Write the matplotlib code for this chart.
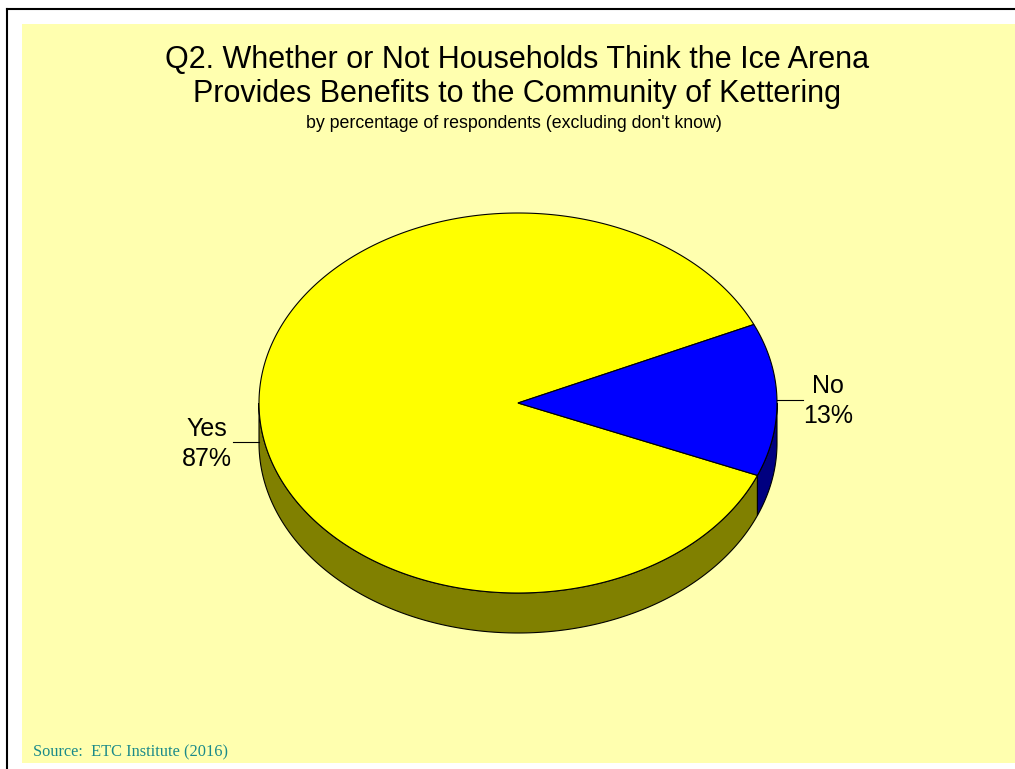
import matplotlib.pyplot as plt
import numpy as np
from matplotlib.patches import Polygon, Rectangle

# Survey answers (percent of respondents, excluding don't know)
labels = ["Yes", "No"]
values = [87, 13]
top_colors = ["#FFFF00", "#0000FF"]
side_colors = ["#808000", "#000080"]

title = ("Q2. Whether or Not Households Think the Ice Arena\n"
         "Provides Benefits to the Community of Kettering")
subtitle = "by percentage of respondents (excluding don't know)"
source = "Source:  ETC Institute (2016)"

W, H = 1015, 769
fig = plt.figure(figsize=(W / 100, H / 100), dpi=100)
ax = fig.add_axes([0, 0, 1, 1])
ax.set_xlim(0, W)
ax.set_ylim(H, 0)
ax.axis("off")

# frame lines and plot area fill
ax.plot([7, W], [9, 9], color="black", lw=1.5)
ax.plot([7, 7], [9, H], color="black", lw=1.5)
ax.add_patch(Rectangle((22, 24), W - 22, 739, facecolor="#FFFFAF", edgecolor="none"))

# 3D pie geometry (pixel space)
cx, cy = 518, 403
rx, ry = 259, 190
depth = 40

def arc(a0, a1, n=200):
    t = np.radians(np.linspace(a0, a1, n))
    return cx + rx * np.cos(t), cy - ry * np.sin(t)

# slices run counter-clockwise; "No" is centred just above the 3 o'clock line
no_span = values[1] / sum(values) * 360
no_start = 1 - no_span / 2
spans = {
    "No": (no_start, no_start + no_span),
    "Yes": (no_start + no_span, no_start + 360),
}

# side walls: only the front half (180..360 deg) is visible
for lab, side in zip(labels, side_colors):
    a0, a1 = spans[lab]
    for k in (-1, 0, 1):
        lo = max(a0, 180 + 360 * k)
        hi = min(a1, 360 + 360 * k)
        if hi <= lo:
            continue
        xs, ys = arc(lo, hi)
        pts = np.column_stack([np.r_[xs, xs[::-1]], np.r_[ys, ys[::-1] + depth]])
        ax.add_patch(Polygon(pts, closed=True, facecolor=side,
                             edgecolor="black", lw=0.8))

# top faces
for lab, top in zip(labels, top_colors):
    a0, a1 = spans[lab]
    xs, ys = arc(a0, a1, 400)
    pts = np.column_stack([np.r_[cx, xs], np.r_[cy, ys]])
    ax.add_patch(Polygon(pts, closed=True, facecolor=top,
                         edgecolor="black", lw=0.8))

# data labels with short leader lines
font = "Liberation Sans"
ax.plot([777, 803], [400, 400], color="black", lw=0.8)
ax.text(828, 401, f"{labels[1]}\n{values[1]}%", ha="center", va="center",
        fontsize=18, family=font, linespacing=1.3)
ax.plot([233, 259], [442, 442], color="black", lw=0.8)
ax.text(207, 444, f"{labels[0]}\n{values[0]}%", ha="center", va="center",
        fontsize=18, family=font, linespacing=1.3)

ax.text(517, 77, title, ha="center", va="center", fontsize=22,
        family=font, linespacing=1.2)
ax.text(514, 124, subtitle, ha="center", va="center", fontsize=12.8,
        family=font)
ax.text(33, 752, source, ha="left", va="center", fontsize=11.8,
        family="Liberation Serif", color="#1A8A8A")

fig.savefig("out.png", dpi=100)
